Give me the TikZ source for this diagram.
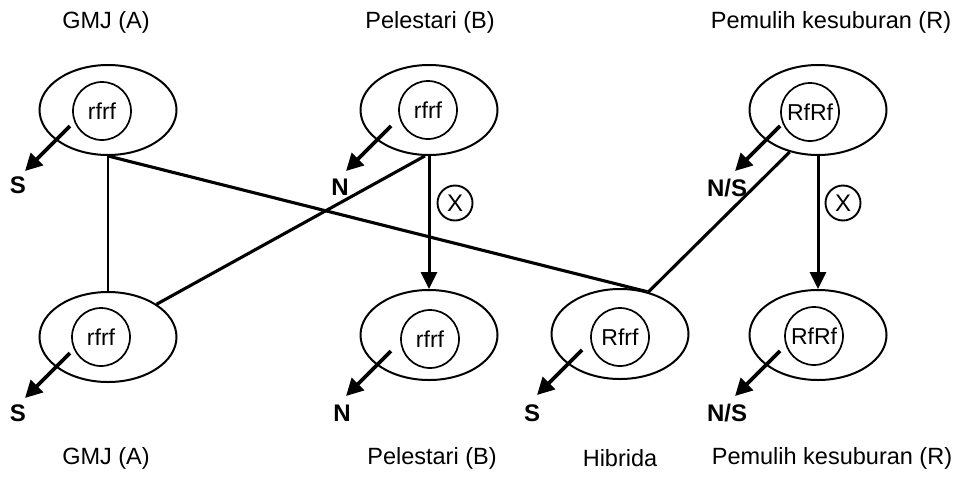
\documentclass[tikz,border=0pt]{standalone}
\usepackage{fontspec}
\setmainfont{Liberation Sans}
\usetikzlibrary{calc,arrows.meta,shapes.geometric}
\begin{document}
\begin{tikzpicture}[x=1pt,y=-1pt,
  plant/.style={draw,ellipse,line width=2pt,minimum width=137pt,minimum height=90pt,inner sep=0pt},
  gene/.style={draw,circle,line width=1.7pt,minimum size=58pt,inner sep=0pt,
    font=\fontsize{23}{23}\selectfont},
  caption/.style={font=\fontsize{23.5}{24}\selectfont},
  pollen/.style={font=\fontsize{24}{24}\selectfont\bfseries},
  cross/.style={draw,circle,line width=1.9pt,minimum size=35pt,inner sep=0pt,
    font=\fontsize{24}{24}\selectfont},
  link/.style={line width=3.1pt},
  thinlink/.style={line width=2.1pt},
  offspring/.style={line width=3pt,-{Triangle[length=17pt,width=16pt]}},
  shed/.style={line width=3.8pt,-{Triangle[length=17pt,width=17pt]}}
]
\path[use as bounding box] (0,0) rectangle (973,477);

% column captions
\node[caption] (tA) at (106,22) {GMJ (A)};
\node[caption] (tB) at (430,22) {Pelestari (B)};
\node[caption] (tR) at (831,22) {Pemulih kesuburan (R)};
\node[caption] (bA) at (106,458) {GMJ (A)};
\node[caption] (bB) at (432,458) {Pelestari (B)};
\node[caption] (bH) at (620,458) {Hibrida};
\node[caption] (bR) at (832,458) {Pemulih kesuburan (R)};

% parent plants (top row)
\node[plant] (A1) at (108,110) {};
\node[plant] (B1) at (429,110) {};
\node[plant] (R1) at (818,110) {};
\node[gene] (gA1) at (102,111) {rfrf};
\node[gene] (gB1) at (428,110) {rfrf};
\node[gene] (gR1) at (810,112) {RfRf};

% offspring plants (bottom row)
\node[plant] (A2) at (108,337) {};
\node[plant] (B2) at (429,335) {};
\node[plant] (H)  at (620,334) {};
\node[plant] (R2) at (818,335) {};
\node[gene] (gA2) at (101,337) {rfrf};
\node[gene] (gB2) at (430,339) {rfrf};
\node[gene] (gH)  at (620,337) {Rfrf};
\node[gene] (gR2) at (814,336) {RfRf};

% pollen fertility labels
\node[pollen] (pA1) at (18,185) {S};
\node[pollen] (pB1) at (340,187) {N};
\node[pollen] (pR1) at (727,188) {N/S};
\node[pollen] (pA2) at (18,413) {S};
\node[pollen] (pB2) at (342,413) {N};
\node[pollen] (pH)  at (532,413) {S};
\node[pollen] (pR2) at (727,413) {N/S};

% pollen arrows
\foreach \p/\q in {A1/pA1,B1/pB1,R1/pR1,A2/pA2,B2/pB2,H/pH,R2/pR2}{
  \coordinate (\q s) at ($(\p)+(-38,16)$);
  \coordinate (\q t) at ($(\p)+(-83,61)$);
  \draw[shed] (\q s) -- (\q t);
}

% crosses
\draw[thinlink] (A1.south) -- (A2.north);
\draw[link] (A1.south) -- (H.57);
\draw[link] (B1.-95) -- (A2.34);
\draw[link] (R1.-124) -- (H.56);
\draw[offspring] (B1.south) -- (B2.north);
\draw[offspring] (R1.south) -- (R2.north);

% selfing marks
\node[cross] (xB) at (455,203) {X};
\node[cross] (xR) at (843,203) {X};
\end{tikzpicture}
\end{document}
